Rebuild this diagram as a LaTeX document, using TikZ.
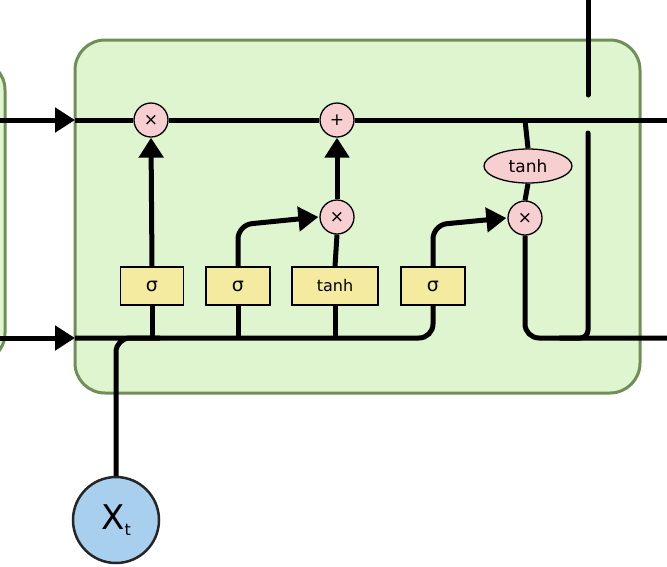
\documentclass[tikz,border=0pt]{standalone}
\usepackage{fontspec}
\setmainfont{DejaVu Sans}
\usetikzlibrary{arrows.meta,shapes.geometric,backgrounds}
\definecolor{cellg}{HTML}{DFF5CF}
\definecolor{celle}{HTML}{6E8F55}
\definecolor{opp}{HTML}{F8CFD0}
\definecolor{gate}{HTML}{F5EBA0}
\definecolor{inb}{HTML}{A8CFEE}
\begin{document}
\begin{tikzpicture}[x=1pt,y=-1pt,
  wire/.style={line width=5pt,rounded corners=14pt},
  arr/.style={wire,-{Triangle[length=20pt,width=24pt]}},
  op/.style={circle,draw=black,line width=1.3pt,fill=opp,minimum size=34pt,inner sep=0pt,font=\fontsize{17}{17}\selectfont},
  gt/.style={draw=black,line width=1.3pt,fill=gate,minimum height=38pt,inner sep=0pt,font=\fontsize{19}{19}\selectfont},
  box/.style={fill=cellg,draw=celle,line width=3pt,rounded corners=30pt}]
\useasboundingbox (0,0) rectangle (667,566);
\node[op] (f) at (151,120) {×};
\node[op] (p) at (337,120) {+};
\node[op] (m) at (337,217) {×};
\node[op] (o) at (525,218) {×};
\node[gt,minimum width=63pt] (g1) at (152,286) {σ};
\node[gt,minimum width=64pt] (g2) at (238,286) {σ};
\node[gt,minimum width=86pt,font=\fontsize{16}{16}\selectfont] (g3) at (335,286) {tanh};
\node[gt,minimum width=64pt] (g4) at (433,286) {σ};
\node[ellipse,draw=black,line width=1.3pt,fill=opp,minimum width=88pt,minimum height=34pt,inner sep=0pt,font=\fontsize{17}{17}\selectfont] (th) at (528,166) {tanh};
\node[circle,draw=black!85,line width=2.5pt,fill=inb,minimum size=86pt,inner sep=0pt,font=\fontsize{34}{34}\selectfont] (x) at (116,520) {X\raisebox{-0.35ex}{\fontsize{16}{16}\selectfont t}};
\coordinate (tl) at (0,120); \coordinate (tin) at (75,120);
\coordinate (bl) at (0,338); \coordinate (bin) at (75,338);
\coordinate (tr) at (667,120); \coordinate (br) at (667,338);
\coordinate (ht) at (588,0); \coordinate (hm) at (588,95); \coordinate (hb) at (588,133);
\begin{scope}[on background layer]
\draw[box] (-100,60) rectangle (5,363);
\draw[box] (75,40) rectangle (640,393);
\draw[arr] (tl) -- (tin);
\draw[arr] (bl) -- (bin);
\draw[wire] (tin) -- (f) -- (p) -- (tr);
\draw[wire] (bin) -- (433,338) -- (g4.south);
\draw[wire] (x.north) -- (116,338) -- (160,338);
\draw[wire] (g1.south) -- (152,338);
\draw[wire] (g2.south) -- (238,338);
\draw[wire] (g3.south) -- (335,338);
\draw[arr] (g1.north) -- (f.south);
\draw[arr] (g2.north) -- (238,225) -- ([xshift=-1pt]m.west);
\draw[wire] (g3.north) -- (m.south);
\draw[arr] (m.north) -- (p.south);
\draw[arr] (g4.north) -- (433,225) -- ([xshift=-1pt]o.west);
\draw[wire] (525,120) -- (th.north);
\draw[wire] (th.south) -- (o.north);
\draw[wire] (o.south) -- (525,338) -- (br);
\draw[line width=5pt,line cap=round] (ht) -- (hm);
\draw[line width=5pt,line cap=round,rounded corners=8pt] (hb) -- (588,338) -- (560,338);
\end{scope}
\end{tikzpicture}
\end{document}
